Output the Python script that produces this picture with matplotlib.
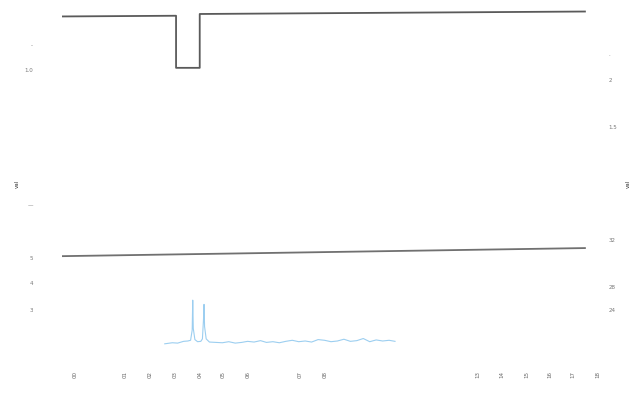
import numpy as np
import matplotlib.pyplot as plt

# top signal (step with a dip)
top_x = [0, 21.2, 21.2, 25.6, 25.6, 97.2]
top_y = [97.6, 97.8, 83.0, 83.0, 98.3, 99.0]

# slow trend line
trend_x = [0, 97.2]
trend_y = [29.5, 31.8]

# sparse blue activity with two spikes
blue_x = [19.1, 20.5, 21.5, 22.6, 23.4, 23.9, 24.2, 24.3, 24.4, 24.7, 25.2,
          25.8, 26.1, 26.3, 26.4, 26.5, 26.8, 27.4, 28.6, 29.8, 31.0, 32.2,
          33.4, 34.5, 35.7, 36.9, 38.0, 39.2, 40.4, 41.6, 42.8, 44.0, 45.2,
          46.4, 47.6, 48.8, 50.0, 51.2, 52.4, 53.6, 54.8, 56.0, 57.2, 58.4,
          59.6, 60.8, 61.9]
blue_y = [4.6, 4.9, 4.8, 5.3, 5.4, 5.6, 8.5, 17.0, 9.0, 5.8, 5.2,
          5.3, 6.0, 11.5, 15.8, 9.5, 6.0, 5.1, 5.0, 4.9, 5.2, 4.8,
          5.0, 5.3, 5.1, 5.5, 5.0, 5.2, 4.9, 5.3, 5.6, 5.2, 5.4,
          5.1, 5.8, 5.6, 5.2, 5.4, 5.9, 5.3, 5.5, 6.1, 5.2, 5.7,
          5.4, 5.6, 5.3]

x_ticks = [2.4, 11.7, 16.4, 21.0, 25.6, 29.9, 34.6, 44.2, 48.9,
           77.3, 81.8, 86.4, 90.7, 95.0, 99.6]
x_labels = ['00', '01', '02', '03', '04', '05', '06', '07', '08',
            '13', '14', '15', '16', '17', '18']

left_ticks = [89.5, 82.4, 44.0, 29.0, 21.9, 14.2]
left_labels = ['-', '1.0', '—', '5', '4', '3']
right_ticks = [86.6, 79.5, 66.2, 34.1, 20.7, 14.2]
right_labels = ['·', '2', '1.5', '32', '28', '24']

fig = plt.figure(figsize=(6.41, 4.03), dpi=100)
ax = fig.add_axes([62 / 641, 43 / 403, 538 / 641, 352 / 403])
ax2 = ax.twinx()

ax.plot(top_x, top_y, color='#5a5a5a', linewidth=1.3)
ax.plot(trend_x, trend_y, color='#707070', linewidth=1.3)
ax.plot(blue_x, blue_y, color='#5aaee6', linewidth=0.8, alpha=0.6)

for a in (ax, ax2):
    a.set_xlim(0, 100)
    a.set_ylim(0, 100)
    for s in a.spines.values():
        s.set_visible(False)

ax.set_xticks(x_ticks)
ax.set_xticklabels(x_labels, rotation=90, fontsize=4, color='#666666')
ax.tick_params(length=0, pad=8)
ax.set_yticks(left_ticks)
ax.set_yticklabels(left_labels, fontsize=4, color='#777777')
ax.tick_params(axis='y', pad=21)
ax.set_ylabel('val', fontsize=4, color='#333333', labelpad=3)

ax2.set_yticks(right_ticks)
ax2.set_yticklabels(right_labels, fontsize=4, color='#777777')
ax2.tick_params(length=0, pad=6)
ax2.set_ylabel('val', fontsize=4, color='#333333', labelpad=6)

fig.savefig('out.png', dpi=100)
